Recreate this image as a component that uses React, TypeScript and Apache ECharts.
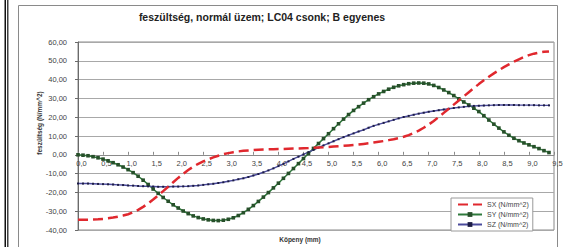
import React, { useEffect, useRef } from "react";
import * as echarts from "echarts";

const xs = [
  0.0, 0.1, 0.2, 0.3, 0.4, 0.5, 0.6, 0.7, 0.8, 0.9,
  1.0, 1.1, 1.2, 1.3, 1.4, 1.5, 1.6, 1.7, 1.8, 1.9,
  2.0, 2.1, 2.2, 2.3, 2.4, 2.5, 2.6, 2.7, 2.8, 2.9,
  3.0, 3.1, 3.2, 3.3, 3.4, 3.5, 3.6, 3.7, 3.8, 3.9,
  4.0, 4.1, 4.2, 4.3, 4.4, 4.5, 4.6, 4.7, 4.8, 4.9,
  5.0, 5.1, 5.2, 5.3, 5.4, 5.5, 5.6, 5.7, 5.8, 5.9,
  6.0, 6.1, 6.2, 6.3, 6.4, 6.5, 6.6, 6.7, 6.8, 6.9,
  7.0, 7.1, 7.2, 7.3, 7.4, 7.5, 7.6, 7.7, 7.8, 7.9,
  8.0, 8.1, 8.2, 8.3, 8.4, 8.5, 8.6, 8.7, 8.8, 8.9,
  9.0, 9.1, 9.2, 9.3, 9.4,
];

const sxValues = [
  -34.5, -34.5, -34.5, -34.4, -34.3, -34.1, -33.8, -33.4, -32.9, -32.3,
  -31.6, -30.6, -29.3, -27.7, -25.9, -23.8, -21.6, -19.3, -17.0, -14.6,
  -12.3, -10.1, -8.1, -6.3, -4.8, -3.5, -2.4, -1.4, -0.5, 0.3,
  0.9, 1.4, 1.8, 2.1, 2.3, 2.5, 2.7, 2.8, 2.9, 3.0,
  3.1, 3.1, 3.2, 3.3, 3.4, 3.5, 3.6, 3.8, 3.9, 4.0,
  4.2, 4.4, 4.6, 4.8, 5.0, 5.2, 5.5, 5.8, 6.1, 6.5,
  6.9, 7.3, 7.8, 8.3, 8.9, 9.6, 10.5, 11.6, 12.9, 14.4,
  16.1, 18.0, 20.1, 22.3, 24.5, 26.7, 28.9, 31.1, 33.3, 35.5,
  37.6, 39.6, 41.5, 43.3, 45.0, 46.6, 48.1, 49.5, 50.8, 52.0,
  53.0, 53.8, 54.4, 54.8, 55.0,
];

const syValues = [
  0.0, -0.2, -0.5, -1.0, -1.6, -2.3, -3.2, -4.2, -5.3, -6.5,
  -7.9, -9.5, -11.4, -13.5, -15.8, -18.2, -20.5, -22.7, -24.7, -26.6,
  -28.3, -29.9, -31.3, -32.5, -33.4, -34.1, -34.6, -34.9, -35.0, -34.8,
  -34.3, -33.5, -32.3, -30.8, -29.0, -27.0, -24.8, -22.5, -20.1, -17.6,
  -15.1, -12.5, -9.9, -7.3, -4.7, -2.0, 0.7, 3.4, 6.0, 8.6,
  11.2, 13.9, 16.5, 19.0, 21.4, 23.6, 25.6, 27.5, 29.3, 30.9,
  32.4, 33.7, 34.9, 35.9, 36.7, 37.3, 37.8, 38.1, 38.2, 38.1,
  37.7, 36.9, 35.8, 34.5, 33.1, 31.5, 29.8, 28.1, 26.5, 24.8,
  23.0, 20.8, 18.5, 16.3, 14.2, 12.2, 10.4, 8.8, 7.5, 6.3,
  5.3, 4.3, 3.3, 2.2, 1.2,
];

const szValues = [
  -15.3, -15.3, -15.3, -15.4, -15.5, -15.6, -15.7, -15.8, -16.0, -16.1,
  -16.3, -16.4, -16.6, -16.7, -16.8, -16.9, -17.0, -17.0, -17.0, -16.9,
  -16.9, -16.8, -16.7, -16.5, -16.3, -16.0, -15.7, -15.4, -15.0, -14.6,
  -14.1, -13.6, -13.0, -12.5, -11.8, -11.0, -10.2, -9.3, -8.3, -7.2,
  -6.0, -4.8, -3.5, -2.2, -1.0, 0.2, 1.4, 2.6, 3.8, 5.0,
  6.1, 7.2, 8.3, 9.4, 10.4, 11.4, 12.4, 13.3, 14.4, 15.4,
  16.2, 17.0, 17.8, 18.6, 19.4, 20.1, 20.7, 21.3, 21.9, 22.4,
  22.9, 23.3, 23.7, 24.1, 24.5, 24.9, 25.2, 25.5, 25.8, 26.0,
  26.1, 26.2, 26.3, 26.4, 26.5, 26.5, 26.5, 26.5, 26.4, 26.4,
  26.4, 26.4, 26.3, 26.3, 26.3,
];

const seriesNames = ["SX (N/mm^2)", "SY (N/mm^2)", "SZ (N/mm^2)"];
const titleText = "feszültség, normál üzem; LC04 csonk; B egyenes";
const yTitle = "feszültség (N/mm^2)";
const xTitle = "Köpeny (mm)";

const FONT = "'Liberation Sans', Arial, sans-serif";

const GRID_TOP = 42;
const GRID_BOTTOM = 17;
const CHART_H = 247;
const Y_MIN = -40;
const Y_MAX = 60;

export default function App() {
  const ref = useRef<HTMLDivElement>(null);

  useEffect(() => {
    document.body.style.margin = "0";
    if (!ref.current) return;
    const chart = echarts.init(ref.current, undefined, { renderer: "svg" });
    const pairs = (ys: number[]) => xs.map((x, i) => [x, ys[i]]);
    const plotH = CHART_H - GRID_TOP - GRID_BOTTOM;
    // lift the x axis from the bottom edge up to the value 0 line
    const zeroLift = (plotH * (0 - Y_MIN)) / (Y_MAX - Y_MIN);
    chart.setOption({
      animation: false,
      backgroundColor: "#ffffff",
      textStyle: { fontFamily: FONT },
      grid: {
        left: 78,
        top: GRID_TOP,
        right: 14,
        bottom: GRID_BOTTOM,
        show: true,
        borderColor: "#8a8a8a",
        borderWidth: 1,
        backgroundColor: "transparent",
      },
      xAxis: {
        type: "value",
        min: 0,
        max: 9.5,
        interval: 0.5,
        position: "bottom",
        offset: -zeroLift,
        axisLine: { show: true, onZero: false, lineStyle: { color: "#8a8a8a", width: 1 } },
        axisTick: { show: true, inside: true, length: 3, lineStyle: { color: "#8a8a8a" } },
        splitLine: { show: false },
        axisLabel: {
          fontSize: 7.5,
          color: "#444",
          margin: 5,
          padding: [0, 0, 0, 7],
          fontFamily: FONT,
          formatter: (v: number) => v.toFixed(1).replace(".", ","),
        },
      },
      yAxis: {
        type: "value",
        min: Y_MIN,
        max: Y_MAX,
        interval: 10,
        axisLine: { show: true, onZero: false, lineStyle: { color: "#6a6a6a", width: 1 } },
        axisTick: { show: true, inside: false, length: 3, lineStyle: { color: "#6a6a6a" } },
        splitLine: { show: true, lineStyle: { color: "#a8a8a8", width: 1 } },
        axisLabel: {
          fontSize: 7.5,
          color: "#444",
          margin: 11,
          fontFamily: FONT,
          formatter: (v: number) => v.toFixed(2).replace(".", ","),
        },
      },
      legend: {
        orient: "vertical",
        left: 451,
        top: 198,
        itemWidth: 24,
        itemHeight: 6,
        itemGap: 3,
        padding: [3, 4, 3, 6],
        backgroundColor: "#ffffff",
        borderColor: "#9a9a9a",
        borderWidth: 1,
        textStyle: { fontSize: 7, color: "#444", fontFamily: FONT },
        data: [
          { name: seriesNames[0], itemStyle: { opacity: 0 } },
          { name: seriesNames[1] },
          { name: seriesNames[2] },
        ],
      },
      graphic: [
        { type: "rect", shape: { x: 4.5, y: 0, width: 1.5, height: 247 }, style: { fill: "#111" } },
        { type: "rect", shape: { x: 7.2, y: 0, width: 1.2, height: 247 }, style: { fill: "#111" } },
        {
          type: "rect",
          shape: { x: 18.5, y: 5.5, width: 539, height: 245 },
          style: { fill: "none", stroke: "#8a8a8a", lineWidth: 1 },
          silent: true,
        },
        {
          type: "text",
          x: 262,
          y: 17,
          style: {
            text: titleText,
            fontSize: 10.5,
            fontWeight: "bold",
            fill: "#222",
            fontFamily: FONT,
            textAlign: "center",
            textVerticalAlign: "middle",
          },
        },
        {
          type: "text",
          x: 39,
          y: 123,
          rotation: Math.PI / 2,
          style: {
            text: yTitle,
            fontSize: 6.5,
            fontWeight: "bold",
            fill: "#333",
            fontFamily: FONT,
            textAlign: "center",
            textVerticalAlign: "middle",
          },
        },
        {
          type: "text",
          x: 300,
          y: 239,
          style: {
            text: xTitle,
            fontSize: 6.5,
            fontWeight: "bold",
            fill: "#333",
            fontFamily: FONT,
            textAlign: "center",
            textVerticalAlign: "middle",
          },
        },
      ],
      series: [
        {
          name: seriesNames[0],
          type: "line",
          data: pairs(sxValues),
          symbol: "none",
          lineStyle: { color: "#e0282e", width: 2.5, type: [10, 5] },
          itemStyle: { color: "#e0282e" },
          z: 3,
        },
        {
          name: seriesNames[1],
          type: "line",
          data: pairs(syValues),
          symbol: "rect",
          symbolSize: 3.6,
          lineStyle: { color: "#2f7a3c", width: 1.5 },
          itemStyle: { color: "#274f2a" },
          z: 2,
        },
        {
          name: seriesNames[2],
          type: "line",
          data: pairs(szValues),
          symbol: "rect",
          symbolSize: 2,
          lineStyle: { color: "#4b4b9c", width: 1.4 },
          itemStyle: { color: "#1c1c44" },
          z: 2,
        },
      ],
    });
    return () => chart.dispose();
  }, []);

  return <div ref={ref} style={{ width: 568, height: 247 }} />;
}
